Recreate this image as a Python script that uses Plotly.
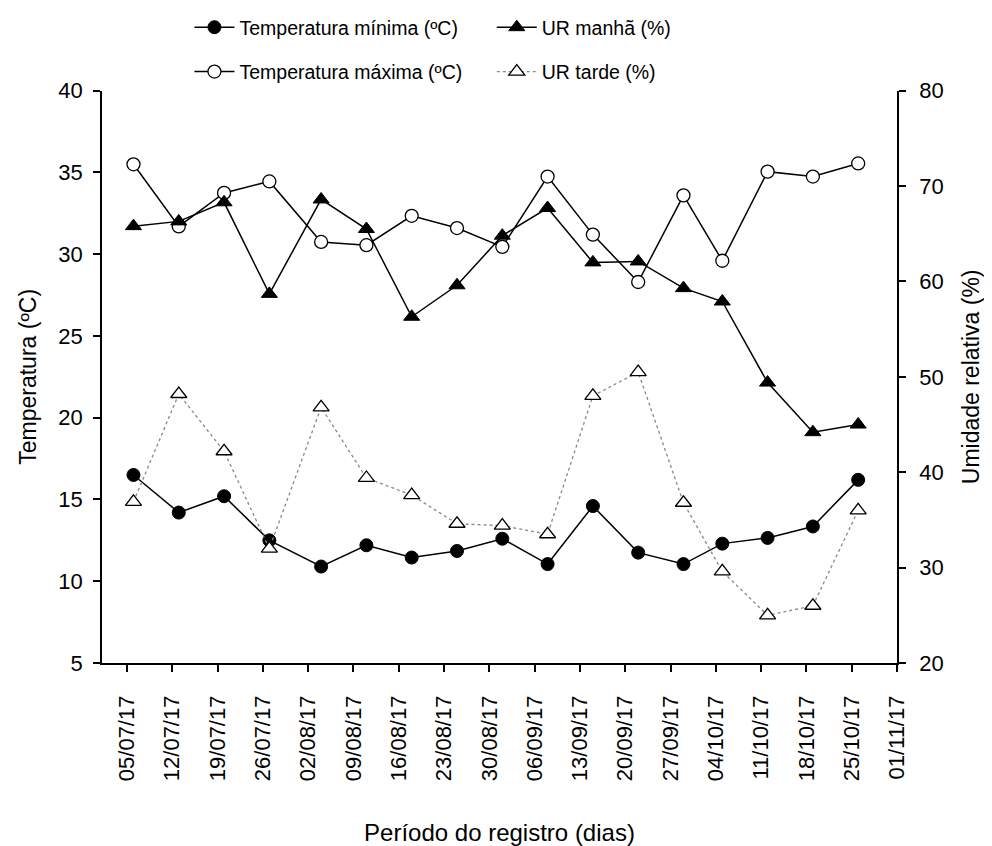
import plotly.graph_objects as go

dates = ["2017-07-06", "2017-07-13", "2017-07-20", "2017-07-27", "2017-08-04",
         "2017-08-11", "2017-08-18", "2017-08-25", "2017-09-01", "2017-09-08",
         "2017-09-15", "2017-09-22", "2017-09-29", "2017-10-05", "2017-10-12",
         "2017-10-19", "2017-10-26"]
tmin = [16.5, 14.2, 15.2, 12.5, 10.9, 12.2, 11.45, 11.85, 12.6, 11.05, 14.6,
        11.75, 11.05, 12.3, 12.65, 13.35, 16.2]
tmax = [35.5, 31.7, 33.75, 34.45, 30.75, 30.55, 32.35, 31.6, 30.45, 34.75, 31.2,
        28.3, 33.6, 29.6, 35.05, 34.75, 35.55]
ur_manha = [65.8, 66.3, 68.3, 58.7, 68.6, 65.5, 56.3, 59.6, 64.8, 67.7, 62.0,
            62.1, 59.3, 57.9, 49.4, 44.2, 45.0]
ur_tarde = [36.9, 48.2, 42.2, 32.0, 46.8, 39.4, 37.6, 34.6, 34.4, 33.5, 48.0,
            50.5, 36.8, 29.6, 25.0, 26.0, 36.0]

tick_dates = ["2017-07-05", "2017-07-12", "2017-07-19", "2017-07-26", "2017-08-02",
              "2017-08-09", "2017-08-16", "2017-08-23", "2017-08-30", "2017-09-06",
              "2017-09-13", "2017-09-20", "2017-09-27", "2017-10-04", "2017-10-11",
              "2017-10-18", "2017-10-25", "2017-11-01"]
tick_labels = ["05/07/17", "12/07/17", "19/07/17", "26/07/17", "02/08/17",
               "09/08/17", "16/08/17", "23/08/17", "30/08/17", "06/09/17",
               "13/09/17", "20/09/17", "27/09/17", "04/10/17", "11/10/17",
               "18/10/17", "25/10/17", "01/11/17"]

FONT = "Liberation Sans, Arial, sans-serif"

fig = go.Figure()
fig.add_trace(go.Scatter(
    x=dates, y=tmin, name="Temperatura mínima (ºC)", mode="lines+markers",
    line=dict(color="black", width=1.5),
    marker=dict(symbol="circle", size=13, color="black", line=dict(color="black", width=1)),
    legend="legend", legendgroup="a"))
fig.add_trace(go.Scatter(
    x=dates, y=tmax, name="Temperatura máxima (ºC)", mode="lines+markers",
    line=dict(color="black", width=1.5),
    marker=dict(symbol="circle", size=13, color="white", line=dict(color="black", width=1.3)),
    legend="legend", legendgroup="b"))
fig.add_trace(go.Scatter(
    x=dates, y=ur_manha, name="UR manhã (%)", mode="lines+markers", yaxis="y2",
    line=dict(color="black", width=1.5),
    marker=dict(symbol="triangle-up", size=14, color="black", line=dict(color="black", width=1)),
    legend="legend2", legendgroup="c"))
fig.add_trace(go.Scatter(
    x=dates, y=ur_tarde, name="UR tarde (%)", mode="lines+markers", yaxis="y2",
    line=dict(color="#888888", width=1.3, dash="dot"),
    marker=dict(symbol="triangle-up", size=14, color="white", line=dict(color="black", width=1.3)),
    legend="legend2", legendgroup="d"))

axis_common = dict(
    ticks="outside", ticklen=7, tickwidth=1.5, tickcolor="black",
    showline=True, linecolor="black", linewidth=1.5,
    showgrid=False, zeroline=False, automargin=False,
    tickfont=dict(size=22),
)

# The page body has an 8px default margin, so the figure is sized to fit the window.
fig.update_layout(
    width=984, height=838,
    margin=dict(l=93.7, r=95.3, t=79.3, b=182.7),
    paper_bgcolor="white", plot_bgcolor="white",
    font=dict(family=FONT, color="black", size=20),
    xaxis=dict(
        type="date", range=["2017-07-01 03:15", "2017-11-01"],
        tickvals=tick_dates, ticktext=tick_labels, tickangle=-90,
        ticklabelstandoff=15,
        title=dict(text="Período do registro (dias)", font=dict(size=24), standoff=45),
        **axis_common,
    ),
    yaxis=dict(
        range=[5, 40], dtick=5, tick0=5, ticklabelstandoff=6,
        title=dict(text="Temperatura (ºC)", font=dict(size=23), standoff=15),
        **axis_common,
    ),
    yaxis2=dict(
        range=[20, 80], dtick=10, tick0=20, overlaying="y", side="right",
        ticklabelstandoff=9,
        title=dict(text="Umidade relativa (%)", font=dict(size=23), standoff=20),
        **axis_common,
    ),
    legend=dict(
        x=0.11, y=1.0, xanchor="left", yanchor="top", yref="container",
        orientation="v", bgcolor="rgba(0,0,0,0)", font=dict(size=19.5),
        traceorder="grouped", tracegroupgap=16, itemwidth=40,
    ),
    legend2=dict(
        x=0.4903, y=1.0, xanchor="left", yanchor="top", yref="container",
        orientation="v", bgcolor="rgba(0,0,0,0)", font=dict(size=19.5),
        traceorder="grouped", tracegroupgap=16, itemwidth=40,
    ),
)

fig.write_html("out.html")
